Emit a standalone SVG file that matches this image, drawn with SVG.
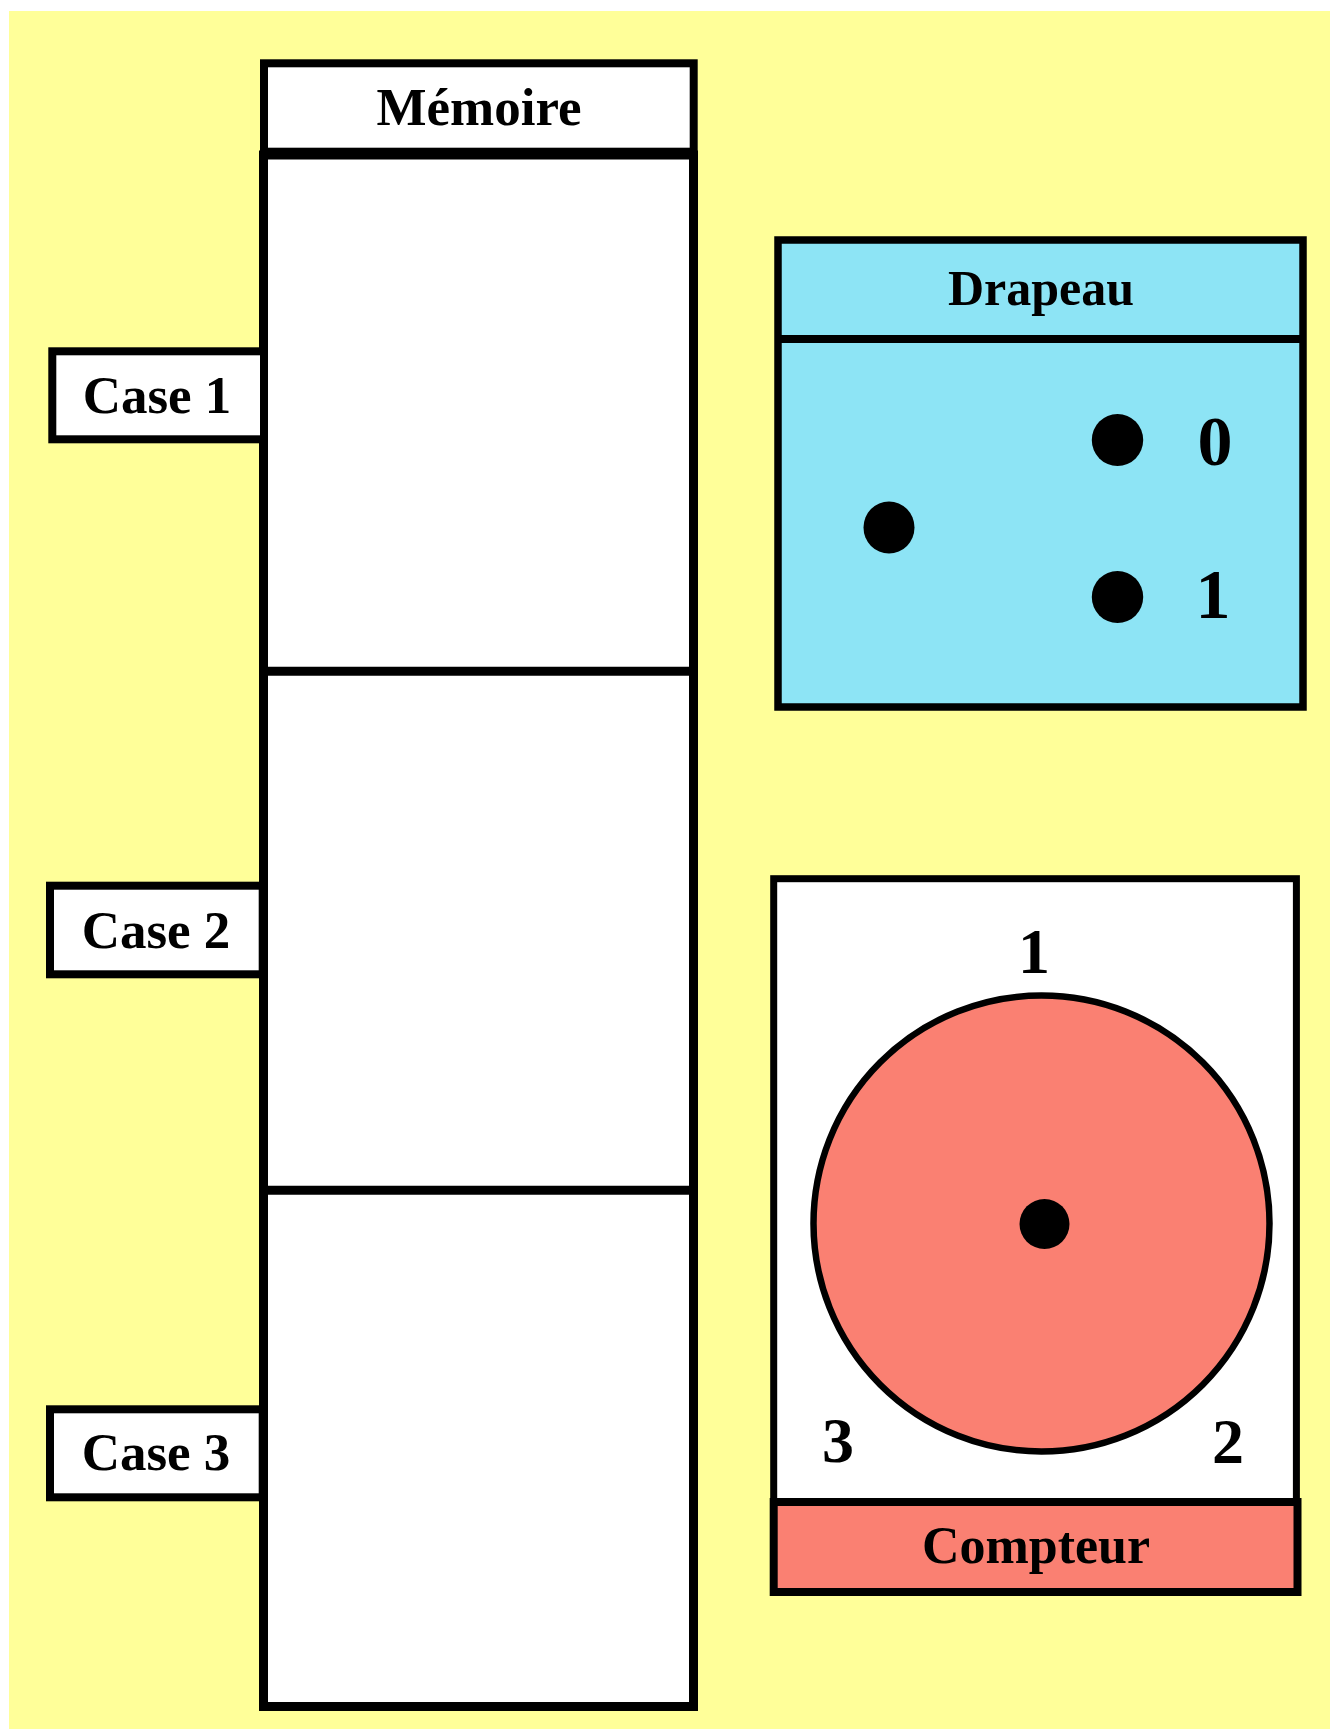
<svg xmlns="http://www.w3.org/2000/svg" width="1330" height="1729" viewBox="0 0 1330 1729">
<style>
.t{font-family:"Liberation Serif","Times New Roman",serif;font-weight:bold;fill:#000;text-anchor:middle}
.box{stroke:#000;stroke-width:8}
</style>
<rect x="0" y="0" width="1330" height="1729" fill="#fff"/>
<rect x="9" y="11" width="1321" height="1718" fill="#FFFF99"/>
<g id="memoire">
<rect x="263.5" y="155" width="430" height="1551.5" fill="#fff" stroke="#000" stroke-width="9"/>
<line x1="263.5" y1="671.3" x2="693.5" y2="671.3" stroke="#000" stroke-width="9"/>
<line x1="263.5" y1="1190.3" x2="693.5" y2="1190.3" stroke="#000" stroke-width="9"/>
<rect class="box" x="264" y="63.3" width="429.7" height="88.4" fill="#fff"/>
<text class="t" x="479" y="125" font-size="53">Mémoire</text>
</g>
<g id="case1">
<rect class="box" x="52.3" y="351.3" width="211.7" height="88" fill="#fff"/>
<text class="t" x="157" y="413" font-size="53">Case 1</text>
</g>
<g id="case2">
<rect class="box" x="50" y="885.7" width="212.7" height="88.6" fill="#fff"/>
<text class="t" x="156" y="947.5" font-size="53">Case 2</text>
</g>
<g id="case3">
<rect class="box" x="50" y="1409.3" width="212.7" height="88" fill="#fff"/>
<text class="t" x="156" y="1470" font-size="53">Case 3</text>
</g>
<g id="drapeau">
<rect x="778" y="240" width="525" height="467" fill="#8DE4F5" stroke="#000" stroke-width="7.5"/>
<line x1="778" y1="339" x2="1303" y2="339" stroke="#000" stroke-width="8"/>
<text class="t" x="1041" y="305" font-size="50">Drapeau</text>
<ellipse cx="1117.5" cy="440" rx="25.7" ry="26"/>
<ellipse cx="1117.5" cy="597" rx="25.7" ry="26"/>
<ellipse cx="889" cy="527.5" rx="25.5" ry="26"/>
<text class="t" x="1215" y="465" font-size="70">0</text>
<text class="t" x="1213" y="618" font-size="70">1</text>
</g>
<g id="compteur">
<rect x="773.7" y="878.7" width="522.7" height="713" fill="#fff" stroke="#000" stroke-width="7"/>
<circle cx="1041.5" cy="1223.5" r="228" fill="#FA8072" stroke="#000" stroke-width="6.5"/>
<circle cx="1044.5" cy="1224" r="25"/>
<text class="t" x="1034" y="973" font-size="64">1</text>
<text class="t" x="838" y="1462" font-size="64">3</text>
<text class="t" x="1228" y="1463" font-size="64">2</text>
<rect class="box" x="773.7" y="1502" width="523.8" height="90" fill="#FA8072"/>
<text class="t" x="1036" y="1563" font-size="52">Compteur</text>
</g>
<g id="connectors"></g>
</svg>
